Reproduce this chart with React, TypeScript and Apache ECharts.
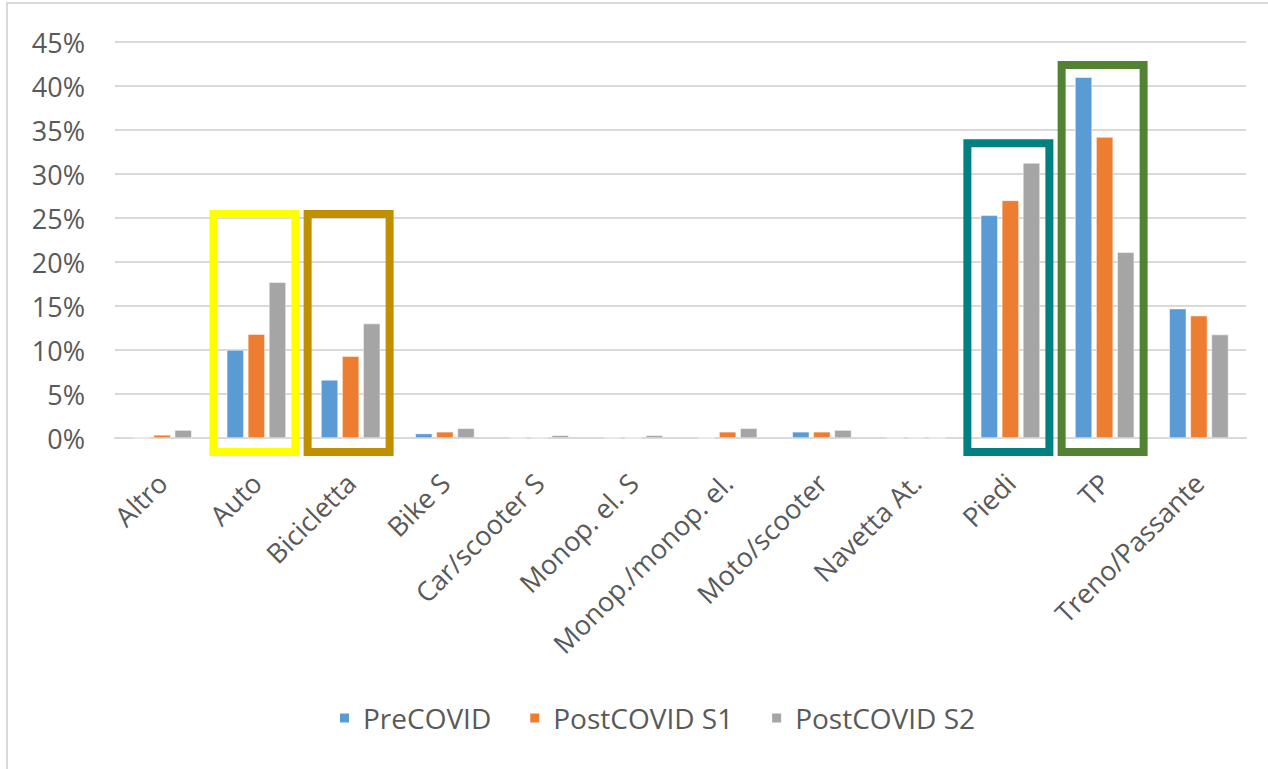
import React, { useEffect, useRef } from "react";
import * as echarts from "echarts";

const categories = [
  "Altro",
  "Auto",
  "Bicicletta",
  "Bike S",
  "Car/scooter S",
  "Monop. el. S",
  "Monop./monop. el.",
  "Moto/scooter",
  "Navetta At.",
  "Piedi",
  "TP",
  "Treno/Passante",
];

const preCovid = [0, 10.0, 6.6, 0.5, 0, 0, 0, 0.7, 0, 25.3, 41.0, 14.7];
const postCovidS1 = [0.35, 11.8, 9.3, 0.7, 0, 0, 0.7, 0.7, 0, 27.0, 34.2, 13.9];
const postCovidS2 = [0.9, 17.7, 13.0, 1.1, 0.3, 0.3, 1.1, 0.9, 0, 31.25, 21.1, 11.75];

const seriesNames = ["PreCOVID", "PostCOVID S1", "PostCOVID S2"];
const seriesColors = ["#5B9BD5", "#ED7D31", "#A5A5A5"];

const yTicks = { min: 0, max: 45, interval: 5 };

// highlight boxes (annotation): category, top value (%), bottom value (%), colour
const highlightCats = ["Auto", "Bicicletta", "Piedi", "TP"];
const highlightTops = [25.45, 25.45, 33.5, 42.4];
const highlightBottom = -1.6;
const highlightColors = ["#FFFF00", "#BF9000", "#008080", "#548235"];

const FONT = "'Open Sans', sans-serif";
const TEXT = "#595959";

export default function App() {
  const ref = useRef<HTMLDivElement>(null);

  useEffect(() => {
    document.body.style.margin = "0";
    if (!ref.current) return;
    const chart = echarts.init(ref.current, undefined, { renderer: "svg" });
    const data = [preCovid, postCovidS1, postCovidS2];
    chart.setOption({
      animation: false,
      backgroundColor: "#ffffff",
      textStyle: { fontFamily: FONT },
      grid: { left: 115, right: 22, top: 42, bottom: 331, containLabel: false },
      legend: {
        data: seriesNames,
        left: 333,
        top: 699,
        icon: "rect",
        itemWidth: 11,
        itemHeight: 11,
        itemGap: 37,
        textStyle: { fontFamily: FONT, fontSize: 28, color: TEXT, padding: [0, 0, 0, 8] },
      },
      xAxis: {
        type: "category",
        data: categories,
        axisLine: { show: true, lineStyle: { color: "#D9D9D9", width: 2 } },
        axisTick: { show: false },
        axisLabel: {
          rotate: 45,
          interval: 0,
          margin: 40,
          fontFamily: FONT,
          fontSize: 27,
          color: TEXT,
        },
      },
      yAxis: {
        type: "value",
        min: yTicks.min,
        max: yTicks.max,
        interval: yTicks.interval,
        axisLine: { show: false },
        axisTick: { show: false },
        splitLine: { lineStyle: { color: "#D9D9D9", width: 2 } },
        axisLabel: {
          formatter: (v: number) => `${v}%`,
          margin: 30,
          fontFamily: FONT,
          fontSize: 27,
          color: TEXT,
        },
      },
      series: seriesNames.map((name, i) => ({
        name,
        type: "bar",
        data: data[i],
        barWidth: 17,
        barGap: "24%",
        itemStyle: { color: seriesColors[i], borderColor: "#ffffff", borderWidth: 0.5 },
      })),
    });

    const x0 = chart.convertToPixel({ xAxisIndex: 0 }, categories[0]) as number;
    const x1 = chart.convertToPixel({ xAxisIndex: 0 }, categories[1]) as number;
    const band = x1 - x0;
    const half = band * 0.435;
    const yBottom = chart.convertToPixel({ yAxisIndex: 0 }, highlightBottom) as number;
    const boxes = highlightCats.map((c, i) => {
      const cx = (chart.convertToPixel({ xAxisIndex: 0 }, c) as number) - 2;
      const yTop = chart.convertToPixel({ yAxisIndex: 0 }, highlightTops[i]) as number;
      return {
        type: "rect",
        shape: { x: cx - half, y: yTop, width: half * 2, height: yBottom - yTop },
        style: { fill: "none", stroke: highlightColors[i], lineWidth: 8 },
        z: 10,
      };
    });
    chart.setOption({
      graphic: [
        {
          type: "rect",
          shape: { x: 7, y: 3, width: 1300, height: 800 },
          style: { fill: "none", stroke: "#D9D9D9", lineWidth: 2 },
          silent: true,
        },
        ...boxes,
      ],
    });

    return () => chart.dispose();
  }, []);

  return <div ref={ref} style={{ width: 1268, height: 769 }} />;
}
